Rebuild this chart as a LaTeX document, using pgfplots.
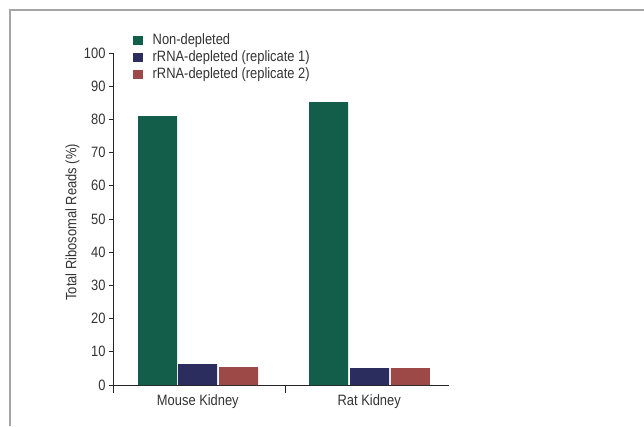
\documentclass[border=0pt]{standalone}
\usepackage{fontspec}
\setmainfont{Liberation Sans}[FakeStretch=0.86]
\usepackage{pgfplots}
\pgfplotsset{compat=1.18}
\definecolor{cg}{HTML}{135E4A}
\definecolor{cb}{HTML}{2A2D5E}
\definecolor{cr}{HTML}{9C4947}
\definecolor{tx}{HTML}{333333}
\newcommand\ff{\fontsize{15bp}{18bp}\selectfont}
\begin{document}
\begin{tikzpicture}[x=1bp,y=1bp]
\useasboundingbox (0,0) rectangle (644,426);
\draw[color=black!35, line width=1.2bp] (10,0) -- (10,416) -- (644,416);
\begin{axis}[
  at={(113bp,41bp)}, anchor=south west,
  scale only axis, width=336bp, height=332bp,
  xmin=0, xmax=2, ymin=0, ymax=100,
  axis x line=bottom, axis y line=left,
  axis line style={-, line width=0.8bp, color=black!85},
  ytick={0,10,...,100},
  ytick style={draw=black!85, line width=0.8bp},
  ytick align=outside, major tick length=4bp,
  xtick={0.505,1.525}, xticklabels={Mouse Kidney, Rat Kidney},
  xtick style={draw=none},
  xticklabel style={yshift=-4bp},
  extra x ticks={0,1.024}, extra x tick labels={},
  extra x tick style={major tick length=8bp, xtick style={draw=black!85, line width=0.8bp}, xtick align=outside},
  tick label style={font=\ff, text=tx},
  /pgf/number format/assume math mode=true,
  ylabel={Total Ribosomal Reads (\%)},
  ylabel style={at={(axis description cs:-0.1205,0.49)}, anchor=center, font=\ff, text=tx},
  legend style={at={(0.0595,1.057)}, anchor=north west, draw=none, fill=none,
    inner sep=0pt, font=\ff, text=tx, cells={anchor=west},
    nodes={inner sep=0pt, text height=10.5bp, text depth=2.5bp},
    row sep=4bp, column sep=10bp},
  legend image code/.code={\fill[#1] (0bp,-4.5bp) rectangle (9.5bp,5bp);},
  clip=false,
]
\addplot[ybar, bar shift=0pt, bar width=39bp, fill=cg, draw=none] coordinates {(0.265,81.0) (1.283,85.2)};
\addplot[ybar, bar shift=0pt, bar width=39bp, fill=cb, draw=none] coordinates {(0.503,6.3) (1.527,5.1)};
\addplot[ybar, bar shift=0pt, bar width=39bp, fill=cr, draw=none] coordinates {(0.747,5.4) (1.770,5.1)};
\legend{Non-depleted, rRNA-depleted (replicate 1), rRNA-depleted (replicate 2)}
\end{axis}
\end{tikzpicture}
\end{document}
